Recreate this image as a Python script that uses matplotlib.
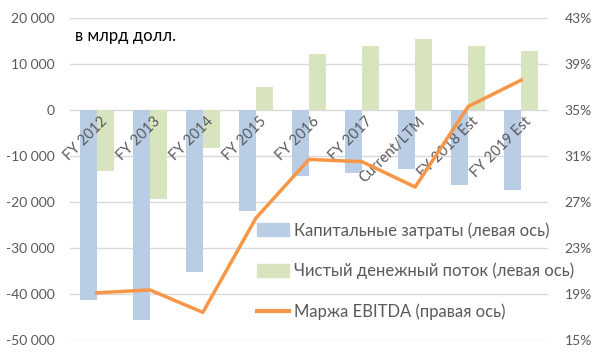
import matplotlib
matplotlib.use('agg')
import matplotlib.pyplot as plt
from matplotlib.patches import Patch
from matplotlib.lines import Line2D
import numpy as np

plt.rcParams['font.family'] = ['Lato', 'DejaVu Sans']

categories = ['FY 2012', 'FY 2013', 'FY 2014', 'FY 2015', 'FY 2016', 'FY 2017',
              'Current/LTM', 'FY 2018 Est', 'FY 2019 Est']
capex = [-41300, -45600, -35200, -21900, -14300, -13700, -12800, -16300, -17400]
fcf = [-13200, -19300, -8200, 5000, 12200, 13900, 15400, 13900, 12800]
ebitda_margin = [19.1, 19.35, 17.4, 25.6, 30.7, 30.5, 28.3, 35.3, 37.6]

left_ticks = [20000, 10000, 0, -10000, -20000, -30000, -40000, -50000]
right_ticks = [43, 39, 35, 31, 27, 23, 19, 15]

blue = '#B9CDE5'
green = '#D7E4BD'
orange = '#F79646'
grey = '#595959'

fig = plt.figure(figsize=(6, 3.59), dpi=100)
ax = fig.add_axes([0.117, 0.053, 0.796, 0.897])
x = np.arange(len(categories))
w = 0.32
ax.bar(x - w / 2, capex, w, color=blue, zorder=2)
ax.bar(x + w / 2, fcf, w, color=green, zorder=2)
ax.set_xlim(-0.5, len(categories) - 0.5)
ax.set_ylim(-50000, 20000)
ax.set_yticks(left_ticks)
ax.set_yticklabels([f'{v:,}'.replace(',', ' ') for v in left_ticks], color=grey, fontsize=10)
ax.grid(axis='y', color='#D9D9D9', linewidth=1, zorder=0)
ax.set_xticks([])
ax.tick_params(axis='y', length=0, pad=11)
for s in ax.spines.values():
    s.set_visible(False)

for i, c in enumerate(categories):
    ax.text(i + 0.06, -900, c, rotation=45, ha='right', va='top',
            rotation_mode='anchor', color=grey, fontsize=10.5, zorder=3)

ax.text(-0.41, 16100, 'в млрд долл.', fontsize=12, color='black', va='center')

ax2 = ax.twinx()
ax2.plot(x, ebitda_margin, color=orange, linewidth=2.5, zorder=4)
ax2.set_ylim(15, 43)
ax2.set_yticks(right_ticks)
ax2.set_yticklabels([f'{v}%' for v in right_ticks], color=grey, fontsize=10)
ax2.tick_params(axis='y', length=0, pad=12)
for s in ax2.spines.values():
    s.set_visible(False)

handles = [Patch(color=blue), Patch(color=green),
           Line2D([0], [0], color=orange, linewidth=3)]
labels = ['Капитальные затраты (левая ось)', 'Чистый денежный поток (левая ось)',
          'Маржа EBITDA (правая ось)']
leg = ax2.legend(handles, labels, loc='upper left', bbox_to_anchor=(257 / 600, 1 - 222 / 359),
                 bbox_transform=fig.transFigure, borderaxespad=0, borderpad=0,
                 frameon=False, fontsize=12, labelcolor=grey, handlelength=1.9,
                 handleheight=0.85, labelspacing=1.45, handletextpad=0.35)
leg.set_zorder(5)

plt.savefig('out.png', dpi=100)
